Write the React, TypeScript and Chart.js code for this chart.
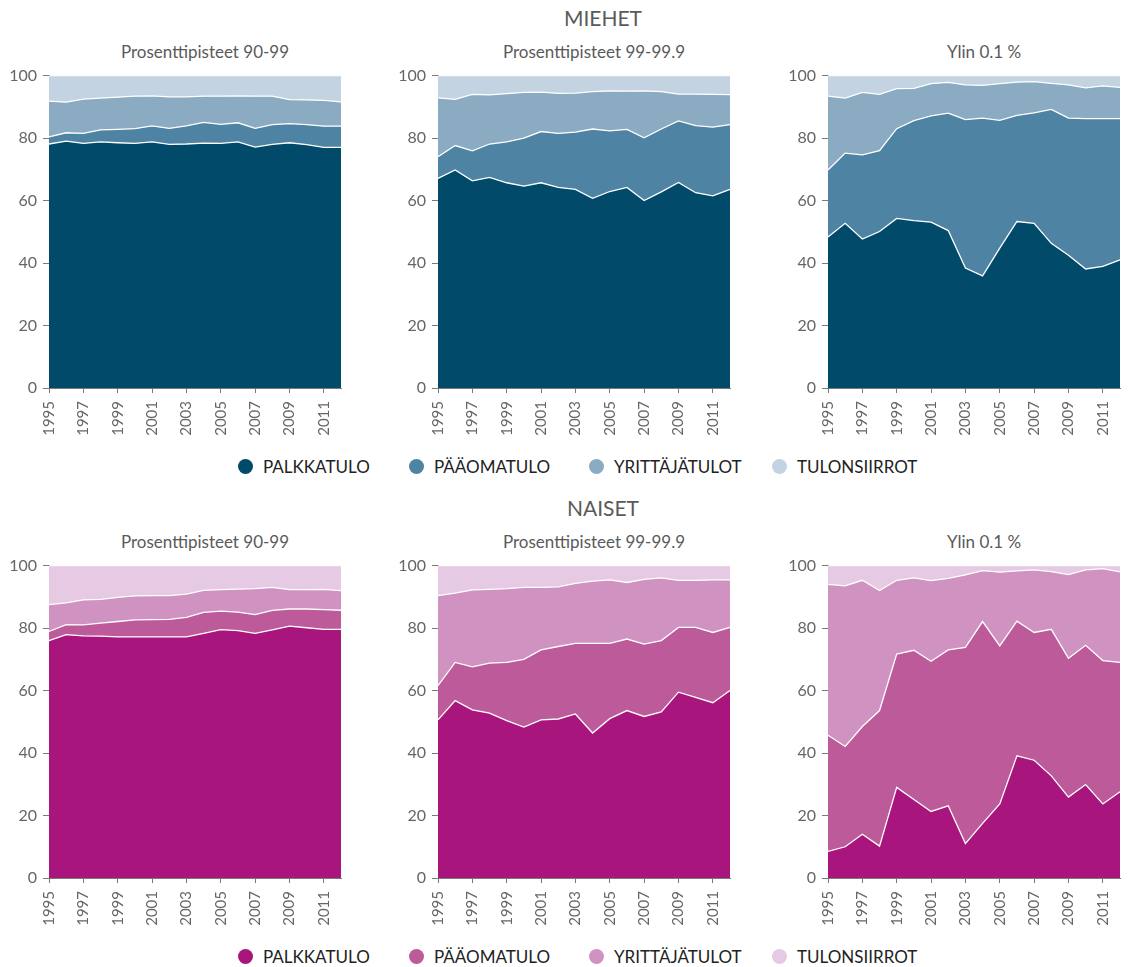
import React, { useEffect, useRef } from 'react';
import { Chart, registerables } from 'chart.js';

Chart.register(...registerables);

const YEARS = ['1995', '1996', '1997', '1998', '1999', '2000', '2001', '2002', '2003', '2004', '2005', '2006', '2007', '2008', '2009', '2010', '2011', '2012'];
const SERIES_NAMES = ['PALKKATULO', 'PÄÄOMATULO', 'YRITTÄJÄTULOT', 'TULONSIIRROT'];
const PANEL_TITLES = ['Prosenttipisteet 90-99', 'Prosenttipisteet 99-99.9', 'Ylin 0.1 %'];
const GROUP_TITLES = ['MIEHET', 'NAISET'];
const Y_TICKS = [0, 20, 40, 60, 80, 100];

const MEN_COLORS = ['#014a6a', '#4f83a3', '#8aabc1', '#c3d3e1'];
const WOMEN_COLORS = ['#a8167d', '#bc5a9a', '#d092c1', '#e6c9e2'];

// MIEHET – Prosenttipisteet 90-99
const M1_PALKKATULO = [78.1, 79.0, 78.3, 78.8, 78.5, 78.3, 78.8, 78.0, 78.1, 78.4, 78.3, 78.8, 77.1, 78.0, 78.5, 77.9, 77.0, 77.0];
const M1_PAAOMATULO = [2.3, 2.7, 3.2, 3.8, 4.3, 4.7, 5.1, 5.1, 5.8, 6.6, 6.1, 6.1, 6.0, 6.3, 6.1, 6.4, 6.8, 6.8];
const M1_YRITTAJATULOT = [11.4, 9.8, 11.0, 10.2, 10.3, 10.4, 9.6, 10.1, 9.3, 8.4, 9.0, 8.6, 10.3, 9.1, 7.7, 7.9, 8.3, 7.8];
const M1_TULONSIIRROT = [8.2, 8.5, 7.5, 7.2, 6.9, 6.6, 6.5, 6.8, 6.8, 6.6, 6.6, 6.5, 6.6, 6.6, 7.7, 7.8, 7.9, 8.4];

// MIEHET – Prosenttipisteet 99-99.9
const M2_PALKKATULO = [67.1, 69.8, 66.3, 67.4, 65.7, 64.6, 65.7, 64.2, 63.6, 60.7, 62.9, 64.2, 60.0, 62.8, 65.8, 62.5, 61.5, 63.6];
const M2_PAAOMATULO = [6.9, 7.8, 9.6, 10.7, 13.1, 15.4, 16.4, 17.3, 18.3, 22.2, 19.4, 18.6, 20.1, 20.1, 19.7, 21.5, 22.0, 20.7];
const M2_YRITTAJATULOT = [18.9, 14.8, 18.1, 15.7, 15.4, 14.6, 12.6, 12.8, 12.5, 12.0, 12.8, 12.2, 15.0, 12.0, 8.6, 10.1, 10.5, 9.6];
const M2_TULONSIIRROT = [7.1, 7.6, 6.0, 6.2, 5.8, 5.4, 5.3, 5.7, 5.6, 5.1, 4.9, 5.0, 4.9, 5.1, 5.9, 5.9, 6.0, 6.1];

// MIEHET – Ylin 0.1 %
const M3_PALKKATULO = [48.3, 52.7, 47.7, 50.1, 54.3, 53.6, 53.1, 50.4, 38.4, 35.9, 44.8, 53.3, 52.7, 46.3, 42.5, 38.1, 38.9, 41.0];
const M3_PAAOMATULO = [21.5, 22.5, 26.9, 25.9, 28.7, 32.0, 34.0, 37.6, 47.5, 50.5, 40.9, 34.0, 35.4, 42.9, 43.9, 48.1, 47.3, 45.2];
const M3_YRITTAJATULOT = [23.6, 17.6, 20.0, 18.0, 12.8, 10.3, 10.3, 9.8, 11.1, 10.5, 11.7, 10.6, 10.0, 8.3, 10.6, 9.9, 10.5, 10.0];
const M3_TULONSIIRROT = [6.6, 7.2, 5.4, 6.0, 4.2, 4.1, 2.6, 2.2, 3.0, 3.1, 2.6, 2.1, 1.9, 2.5, 3.0, 3.9, 3.3, 3.8];

// NAISET – Prosenttipisteet 90-99
const W1_PALKKATULO = [76.0, 77.9, 77.5, 77.4, 77.2, 77.2, 77.2, 77.2, 77.2, 78.3, 79.5, 79.2, 78.3, 79.4, 80.6, 80.1, 79.6, 79.6];
const W1_PAAOMATULO = [2.9, 3.2, 3.5, 4.2, 4.9, 5.4, 5.5, 5.6, 6.2, 6.7, 5.9, 5.9, 6.0, 6.3, 5.5, 6.0, 6.3, 6.1];
const W1_YRITTAJATULOT = [8.6, 7.0, 8.0, 7.6, 7.7, 7.7, 7.7, 7.6, 7.5, 7.1, 6.9, 7.4, 8.3, 7.3, 6.2, 6.2, 6.5, 6.3];
const W1_TULONSIIRROT = [12.5, 11.9, 11.0, 10.8, 10.2, 9.7, 9.6, 9.6, 9.1, 7.9, 7.7, 7.5, 7.4, 7.0, 7.7, 7.7, 7.6, 8.0];

// NAISET – Prosenttipisteet 99-99.9
const W2_PALKKATULO = [50.6, 56.8, 53.8, 52.8, 50.4, 48.3, 50.6, 50.9, 52.5, 46.4, 51.0, 53.6, 51.7, 53.2, 59.5, 57.8, 56.1, 60.0];
const W2_PAAOMATULO = [11.0, 12.2, 13.8, 16.0, 18.6, 21.7, 22.4, 23.2, 22.6, 28.7, 24.1, 22.9, 23.2, 22.8, 20.7, 22.4, 22.5, 20.2];
const W2_YRITTAJATULOT = [28.8, 22.2, 24.6, 23.6, 23.6, 23.0, 20.0, 19.1, 19.2, 19.9, 20.3, 18.1, 20.7, 20.1, 15.1, 15.1, 16.8, 15.2];
const W2_TULONSIIRROT = [9.6, 8.8, 7.8, 7.6, 7.4, 7.0, 7.0, 6.8, 5.7, 5.0, 4.6, 5.4, 4.4, 3.9, 4.7, 4.7, 4.6, 4.6];

// NAISET – Ylin 0.1 %
const W3_PALKKATULO = [8.5, 10.0, 14.0, 10.2, 29.0, 25.1, 21.3, 23.1, 11.0, 17.5, 23.7, 39.1, 37.7, 32.7, 25.9, 29.9, 23.7, 27.6];
const W3_PAAOMATULO = [37.2, 32.1, 34.5, 43.4, 42.7, 47.8, 48.1, 49.9, 62.8, 64.6, 50.6, 43.1, 40.9, 46.9, 44.4, 44.6, 45.9, 41.4];
const W3_YRITTAJATULOT = [48.3, 51.4, 46.8, 38.4, 23.6, 23.2, 25.8, 22.9, 23.2, 16.3, 23.6, 16.1, 20.0, 18.5, 26.8, 24.1, 29.4, 29.0];
const W3_TULONSIIRROT = [6.0, 6.5, 4.7, 8.0, 4.7, 3.9, 4.8, 4.1, 3.0, 1.6, 2.1, 1.7, 1.4, 1.9, 2.9, 1.4, 1.0, 2.0];

const MEN_PANELS = [
  [M1_PALKKATULO, M1_PAAOMATULO, M1_YRITTAJATULOT, M1_TULONSIIRROT],
  [M2_PALKKATULO, M2_PAAOMATULO, M2_YRITTAJATULOT, M2_TULONSIIRROT],
  [M3_PALKKATULO, M3_PAAOMATULO, M3_YRITTAJATULOT, M3_TULONSIIRROT],
];
const WOMEN_PANELS = [
  [W1_PALKKATULO, W1_PAAOMATULO, W1_YRITTAJATULOT, W1_TULONSIIRROT],
  [W2_PALKKATULO, W2_PAAOMATULO, W2_YRITTAJATULOT, W2_TULONSIIRROT],
  [W3_PALKKATULO, W3_PAAOMATULO, W3_YRITTAJATULOT, W3_TULONSIIRROT],
];

const FONT = 'Lato, "Noto Sans", sans-serif';
const AXIS_COLOR = '#7a7a7a';
const TICK_TEXT = '#666666';
const PLOT_W = 312;
const PLOT_H = 312;
const AXIS_W = 49;
const TOP_PAD = 12;
const TOP_INSET = 16;
const X_AXIS_H = 60;
const RIGHT_PAD = 6;
const PLOT_LEFTS = [49, 438, 828];
const GROUP_TOPS = [76, 566];
const LEGEND_XS = [238, 409, 589, 772];
const LEGEND_YS = [466, 956];

type PanelProps = { series: number[][]; colors: string[]; plotLeft: number; plotTop: number };

function Panel({ series, colors, plotLeft, plotTop }: PanelProps) {
  const ref = useRef<HTMLCanvasElement | null>(null);
  useEffect(() => {
    if (!ref.current) return;
    const chart = new Chart(ref.current, {
      type: 'line',
      data: {
        labels: YEARS,
        datasets: series.map((d, i) => ({
          label: SERIES_NAMES[i],
          data: d,
          backgroundColor: colors[i],
          borderColor: '#ffffff',
          borderWidth: 1.3,
          pointRadius: 0,
          pointHoverRadius: 0,
          tension: 0,
          fill: i === 0 ? 'origin' : '-1',
        })),
      },
      options: {
        animation: false,
        responsive: false,
        maintainAspectRatio: false,
        events: [],
        layout: { padding: { top: TOP_PAD, right: RIGHT_PAD, left: 0, bottom: 0 } },
        plugins: {
          legend: { display: false },
          tooltip: { enabled: false },
          title: { display: false },
        },
        scales: {
          x: {
            type: 'category',
            offset: false,
            border: { display: true, color: AXIS_COLOR, width: 1 },
            grid: {
              drawOnChartArea: false,
              drawTicks: true,
              tickLength: 5,
              color: AXIS_COLOR,
              tickColor: (c: any) => (c.index % 2 === 0 ? AXIS_COLOR : 'rgba(0,0,0,0)'),
            },
            ticks: {
              autoSkip: false,
              maxRotation: 90,
              minRotation: 90,
              padding: 8,
              color: TICK_TEXT,
              font: { family: FONT, size: 15 },
              callback: (_v: any, i: number) => (i % 2 === 0 ? YEARS[i] : ''),
            },
            afterFit: (s: any) => {
              s.height = X_AXIS_H;
            },
          },
          y: {
            stacked: true,
            min: 0,
            max: 100,
            border: { display: true, color: AXIS_COLOR, width: 1 },
            grid: { drawOnChartArea: false, drawTicks: true, tickLength: 6, color: AXIS_COLOR },
            ticks: {
              stepSize: 20,
              padding: 6,
              color: TICK_TEXT,
              font: { family: FONT, size: 16 },
            },
            afterBuildTicks: (s: any) => {
              s.ticks = Y_TICKS.map((v) => ({ value: v }));
            },
            afterFit: (s: any) => {
              s.width = AXIS_W;
            },
          },
        },
      },
    } as any);
    return () => chart.destroy();
  }, [series, colors]);
  const w = AXIS_W + PLOT_W + RIGHT_PAD;
  const h = TOP_INSET + PLOT_H + X_AXIS_H;
  return (
    <canvas
      ref={ref}
      width={w}
      height={h}
      style={{ position: 'absolute', left: plotLeft - AXIS_W, top: plotTop - TOP_INSET, width: w, height: h }}
    />
  );
}

function Legend({ colors, top }: { colors: string[]; top: number }) {
  return (
    <>
      {SERIES_NAMES.map((name, i) => (
        <div
          key={name}
          style={{
            position: 'absolute',
            left: LEGEND_XS[i],
            top: top - 10,
            height: 20,
            display: 'flex',
            alignItems: 'center',
            whiteSpace: 'nowrap',
            fontFamily: FONT,
            fontSize: 17,
            color: '#222222',
          }}
        >
          <span
            style={{
              display: 'inline-block',
              width: 15,
              height: 15,
              borderRadius: '50%',
              background: colors[i],
              marginRight: 10,
            }}
          />
          {name}
        </div>
      ))}
    </>
  );
}

export default function App() {
  const groups = [
    { title: GROUP_TITLES[0], panels: MEN_PANELS, colors: MEN_COLORS, titleTop: 6 },
    { title: GROUP_TITLES[1], panels: WOMEN_PANELS, colors: WOMEN_COLORS, titleTop: 496 },
  ];
  return (
    <div
      style={{
        position: 'absolute',
        left: 0,
        top: 0,
        width: 1137,
        height: 967,
        overflow: 'hidden',
        background: '#ffffff',
      }}
    >
      {groups.map((g, gi) => (
        <React.Fragment key={g.title}>
          <div
            style={{
              position: 'absolute',
              left: 453,
              top: g.titleTop,
              width: 300,
              textAlign: 'center',
              fontFamily: FONT,
              fontSize: 21,
              lineHeight: '24px',
              color: '#5a5a5a',
            }}
          >
            {g.title}
          </div>
          {g.panels.map((series, pi) => (
            <React.Fragment key={pi}>
              <div
                style={{
                  position: 'absolute',
                  left: PLOT_LEFTS[pi],
                  top: GROUP_TOPS[gi] - 34,
                  width: PLOT_W,
                  textAlign: 'center',
                  fontFamily: FONT,
                  fontSize: 17,
                  lineHeight: '20px',
                  color: '#5a5a5a',
                  whiteSpace: 'nowrap',
                }}
              >
                {PANEL_TITLES[pi]}
              </div>
              <Panel series={series} colors={g.colors} plotLeft={PLOT_LEFTS[pi]} plotTop={GROUP_TOPS[gi]} />
            </React.Fragment>
          ))}
          <Legend colors={g.colors} top={LEGEND_YS[gi]} />
        </React.Fragment>
      ))}
    </div>
  );
}
